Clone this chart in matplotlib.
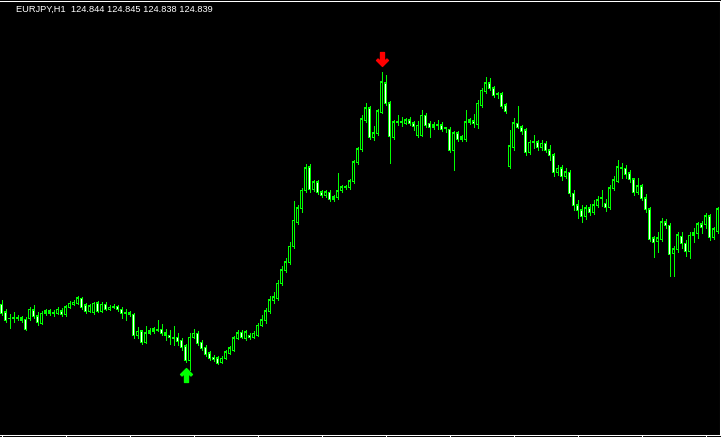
import matplotlib
matplotlib.use('Agg')
import matplotlib.pyplot as plt
from matplotlib.path import Path
import numpy as np

symbol = 'EURJPY,H1'
last_bar = ['124.844', '124.845', '124.838', '124.839']

# hourly bars, oldest first
opens = [
    123.96, 123.88, 123.82, 123.82, 123.83, 123.82, 123.81, 123.82, 123.90, 123.84,
    123.77, 123.87, 123.89, 123.87, 123.87, 123.89, 123.86, 123.93, 123.96, 123.97,
    124.02, 123.95, 123.89, 123.88, 123.97, 123.89, 123.96, 123.91, 123.93, 123.94,
    123.91, 123.88, 123.87, 123.86, 123.65, 123.69, 123.58, 123.67, 123.69, 123.71,
    123.71, 123.67, 123.65, 123.63, 123.63, 123.60, 123.54, 123.40, 123.63, 123.67,
    123.58, 123.53, 123.47, 123.43, 123.42, 123.38, 123.42, 123.47, 123.50, 123.62,
    123.68, 123.62, 123.65, 123.63, 123.65, 123.75, 123.80, 123.89, 124.00, 124.02,
    124.17, 124.30, 124.38, 124.54, 124.78, 124.92, 125.10, 125.33, 125.11, 125.18,
    125.08, 125.05, 125.08, 125.01, 125.03, 125.10, 125.13, 125.13, 125.19, 125.38,
    125.51, 125.80, 125.92, 125.63, 125.67, 125.88, 126.17, 125.97, 125.63, 125.78,
    125.78, 125.77, 125.80, 125.77, 125.65, 125.65, 125.85, 125.77, 125.75, 125.75,
    125.75, 125.72, 125.71, 125.50, 125.67, 125.61, 125.61, 125.78, 125.79, 125.76,
    125.95, 126.09, 126.17, 126.12, 126.06, 126.06, 125.95, 125.34, 125.53, 125.77,
    125.73, 125.70, 125.48, 125.58, 125.58, 125.53, 125.57, 125.50, 125.45, 125.28,
    125.32, 125.24, 125.28, 125.07, 124.95, 124.90, 124.84, 124.92, 124.88, 124.95,
    125.02, 124.97, 124.93, 125.12, 125.19, 125.33, 125.32, 125.27, 125.21, 125.08,
    125.14, 125.02, 124.91, 124.62, 124.59, 124.61, 124.78, 124.75, 124.47, 124.51,
    124.64, 124.57, 124.49, 124.65, 124.67, 124.76, 124.76, 124.84, 124.63, 124.69,
]
highs = [
    124.00, 123.91, 123.86, 123.88, 123.85, 123.84, 123.83, 123.93, 123.95, 123.88,
    123.89, 123.91, 123.91, 123.90, 123.93, 123.92, 123.95, 123.99, 124.00, 124.04,
    124.03, 123.97, 123.96, 123.98, 123.99, 123.98, 123.98, 123.95, 123.96, 123.95,
    123.93, 123.91, 123.89, 123.87, 123.73, 123.70, 123.74, 123.72, 123.73, 123.80,
    123.76, 123.71, 123.70, 123.74, 123.67, 123.62, 123.56, 123.67, 123.71, 123.69,
    123.60, 123.55, 123.49, 123.45, 123.44, 123.44, 123.50, 123.54, 123.64, 123.70,
    123.70, 123.70, 123.67, 123.69, 123.77, 123.85, 123.92, 124.04, 124.08, 124.20,
    124.34, 124.42, 124.58, 124.99, 124.95, 125.12, 125.36, 125.36, 125.20, 125.20,
    125.10, 125.10, 125.10, 125.05, 125.27, 125.15, 125.15, 125.21, 125.40, 125.53,
    125.85, 125.97, 125.94, 125.74, 125.91, 126.28, 126.25, 125.99, 125.80, 125.85,
    125.83, 125.82, 125.83, 125.79, 125.79, 125.90, 125.87, 125.79, 125.78, 125.80,
    125.78, 125.73, 125.73, 125.69, 125.69, 125.65, 125.90, 125.82, 125.86, 126.00,
    126.12, 126.23, 126.22, 126.14, 126.08, 126.08, 125.97, 125.70, 125.82, 125.94,
    125.75, 125.72, 125.60, 125.65, 125.60, 125.60, 125.59, 125.55, 125.47, 125.35,
    125.35, 125.32, 125.30, 125.10, 125.00, 124.95, 124.95, 124.96, 125.00, 125.04,
    125.10, 125.01, 125.15, 125.24, 125.40, 125.37, 125.35, 125.30, 125.22, 125.22,
    125.16, 125.06, 124.93, 124.64, 124.68, 124.82, 124.81, 124.77, 124.54, 124.68,
    124.68, 124.60, 124.68, 124.72, 124.78, 124.79, 124.87, 124.86, 124.73, 124.93,
]
lows = [
    123.85, 123.78, 123.72, 123.78, 123.80, 123.78, 123.70, 123.80, 123.82, 123.75,
    123.76, 123.85, 123.85, 123.84, 123.86, 123.84, 123.84, 123.92, 123.95, 123.96,
    123.91, 123.87, 123.88, 123.86, 123.88, 123.88, 123.90, 123.90, 123.92, 123.89,
    123.82, 123.80, 123.84, 123.62, 123.62, 123.56, 123.57, 123.66, 123.67, 123.69,
    123.65, 123.60, 123.56, 123.55, 123.55, 123.50, 123.38, 123.30, 123.62, 123.55,
    123.50, 123.44, 123.40, 123.39, 123.36, 123.37, 123.41, 123.46, 123.49, 123.61,
    123.62, 123.60, 123.61, 123.62, 123.64, 123.74, 123.77, 123.87, 123.97, 124.00,
    124.15, 124.28, 124.36, 124.52, 124.76, 124.88, 125.08, 125.08, 125.09, 125.06,
    125.03, 125.03, 124.99, 124.99, 125.01, 125.08, 125.11, 125.11, 125.17, 125.36,
    125.49, 125.78, 125.61, 125.60, 125.65, 125.87, 125.95, 125.37, 125.61, 125.75,
    125.74, 125.76, 125.75, 125.70, 125.63, 125.64, 125.73, 125.63, 125.71, 125.71,
    125.69, 125.68, 125.48, 125.30, 125.59, 125.59, 125.59, 125.76, 125.73, 125.72,
    125.93, 126.07, 126.10, 126.03, 126.02, 125.92, 125.87, 125.32, 125.50, 125.72,
    125.66, 125.45, 125.46, 125.52, 125.50, 125.50, 125.48, 125.40, 125.24, 125.25,
    125.20, 125.22, 125.04, 124.90, 124.82, 124.78, 124.81, 124.85, 124.86, 124.93,
    124.94, 124.89, 124.91, 125.10, 125.18, 125.22, 125.22, 125.18, 125.05, 125.06,
    125.00, 124.88, 124.59, 124.43, 124.48, 124.59, 124.72, 124.24, 124.24, 124.48,
    124.52, 124.44, 124.42, 124.58, 124.62, 124.67, 124.72, 124.60, 124.61, 124.67,
]
closes = [
    123.87, 123.80, 123.82, 123.83, 123.82, 123.80, 123.71, 123.91, 123.84, 123.78,
    123.87, 123.89, 123.87, 123.88, 123.91, 123.86, 123.93, 123.97, 123.98, 124.02,
    123.93, 123.89, 123.94, 123.97, 123.89, 123.96, 123.91, 123.93, 123.94, 123.91,
    123.87, 123.87, 123.86, 123.65, 123.69, 123.58, 123.67, 123.69, 123.71, 123.70,
    123.67, 123.65, 123.63, 123.62, 123.59, 123.53, 123.40, 123.63, 123.67, 123.57,
    123.52, 123.46, 123.42, 123.41, 123.37, 123.42, 123.48, 123.52, 123.62, 123.67,
    123.63, 123.68, 123.63, 123.67, 123.75, 123.80, 123.89, 124.00, 124.03, 124.17,
    124.30, 124.38, 124.54, 124.80, 124.92, 125.10, 125.32, 125.11, 125.18, 125.08,
    125.05, 125.08, 125.01, 125.03, 125.09, 125.13, 125.13, 125.19, 125.38, 125.51,
    125.81, 125.92, 125.63, 125.67, 125.89, 126.18, 125.97, 125.64, 125.78, 125.78,
    125.78, 125.80, 125.77, 125.74, 125.75, 125.85, 125.75, 125.73, 125.73, 125.75,
    125.71, 125.72, 125.50, 125.67, 125.61, 125.63, 125.78, 125.80, 125.77, 125.97,
    126.10, 126.17, 126.12, 126.05, 126.06, 125.94, 125.89, 125.54, 125.77, 125.73,
    125.69, 125.48, 125.58, 125.58, 125.53, 125.57, 125.50, 125.45, 125.28, 125.32,
    125.24, 125.28, 125.07, 124.95, 124.90, 124.84, 124.92, 124.88, 124.95, 125.00,
    125.02, 124.93, 125.12, 125.20, 125.33, 125.32, 125.26, 125.21, 125.08, 125.14,
    125.02, 124.91, 124.61, 124.58, 124.62, 124.78, 124.75, 124.46, 124.51, 124.65,
    124.57, 124.49, 124.65, 124.67, 124.76, 124.73, 124.84, 124.63, 124.71, 124.91,
]

# bars where the indicator put an arrow
sell_bars = [95]
buy_bars = [46]

LIME = '#00FF00'
tick = 0.01  # one pixel of price on this chart

fig = plt.figure(figsize=(7.21, 4.37), dpi=100, facecolor='black')
ax = fig.add_axes([0, 2 / 437, 719.5 / 721, 434 / 437])
ax.set_facecolor('black')

o = np.array(opens)
h = np.array(highs)
l = np.array(lows)
c = np.array(closes)
x = np.arange(len(o))
bull = c >= o
body_lo = np.minimum(o, c)
body_hi = np.maximum(o, c)

ax.vlines(x, l, h, color=LIME, linewidth=0.72, antialiased=False, zorder=2)
# outer lime body (3px), then a 1px black/white core like MT4 draws it
ax.bar(x, body_hi - body_lo + tick, bottom=body_lo - tick / 2, width=0.75,
       color=LIME, linewidth=0, antialiased=False, zorder=3)
core = (body_hi - body_lo) > 2 * tick
ax.bar(x[core], (body_hi - body_lo - tick)[core], bottom=(body_lo + tick / 2)[core],
       width=0.25, color=np.where(bull, 'black', 'white')[core], linewidth=0,
       antialiased=False, zorder=4)

# fat wingdings-like arrow
up_verts = [(0, 7), (6, 1), (4.5, -0.5), (2, 2), (2, -7), (-2, -7),
            (-2, 2), (-4.5, -0.5), (-6, 1), (0, 7)]
up_arrow = Path(up_verts, closed=True)
down_arrow = Path([(vx, -vy) for vx, vy in up_verts], closed=True)

gap = 0.13
ax.plot(sell_bars, h[sell_bars] + gap, linestyle='none', marker=down_arrow,
        markersize=10, color='#FF0000', zorder=5)
ax.plot(buy_bars, l[buy_bars] - gap, linestyle='none', marker=up_arrow,
        markersize=10, color=LIME, zorder=5)

ax.set_xlim(-0.375, 179.5)
ax.set_ylim(122.65, 126.99)

for side in ['top', 'right', 'bottom']:
    ax.spines[side].set_color('white')
    ax.spines[side].set_linewidth(0.75)
ax.spines['left'].set_visible(False)
ax.set_xticks(x[::16])
ax.set_yticks([])
ax.tick_params(axis='x', direction='out', length=2, width=0.75,
               color='white', labelbottom=False)

fig.text(16 / 721, 1 - 9 / 437, symbol + '  ' + ' '.join(last_bar),
         color='white', fontsize=6.7, family='Liberation Sans', va='center')

plt.savefig('out.png', dpi=100, facecolor='black')
